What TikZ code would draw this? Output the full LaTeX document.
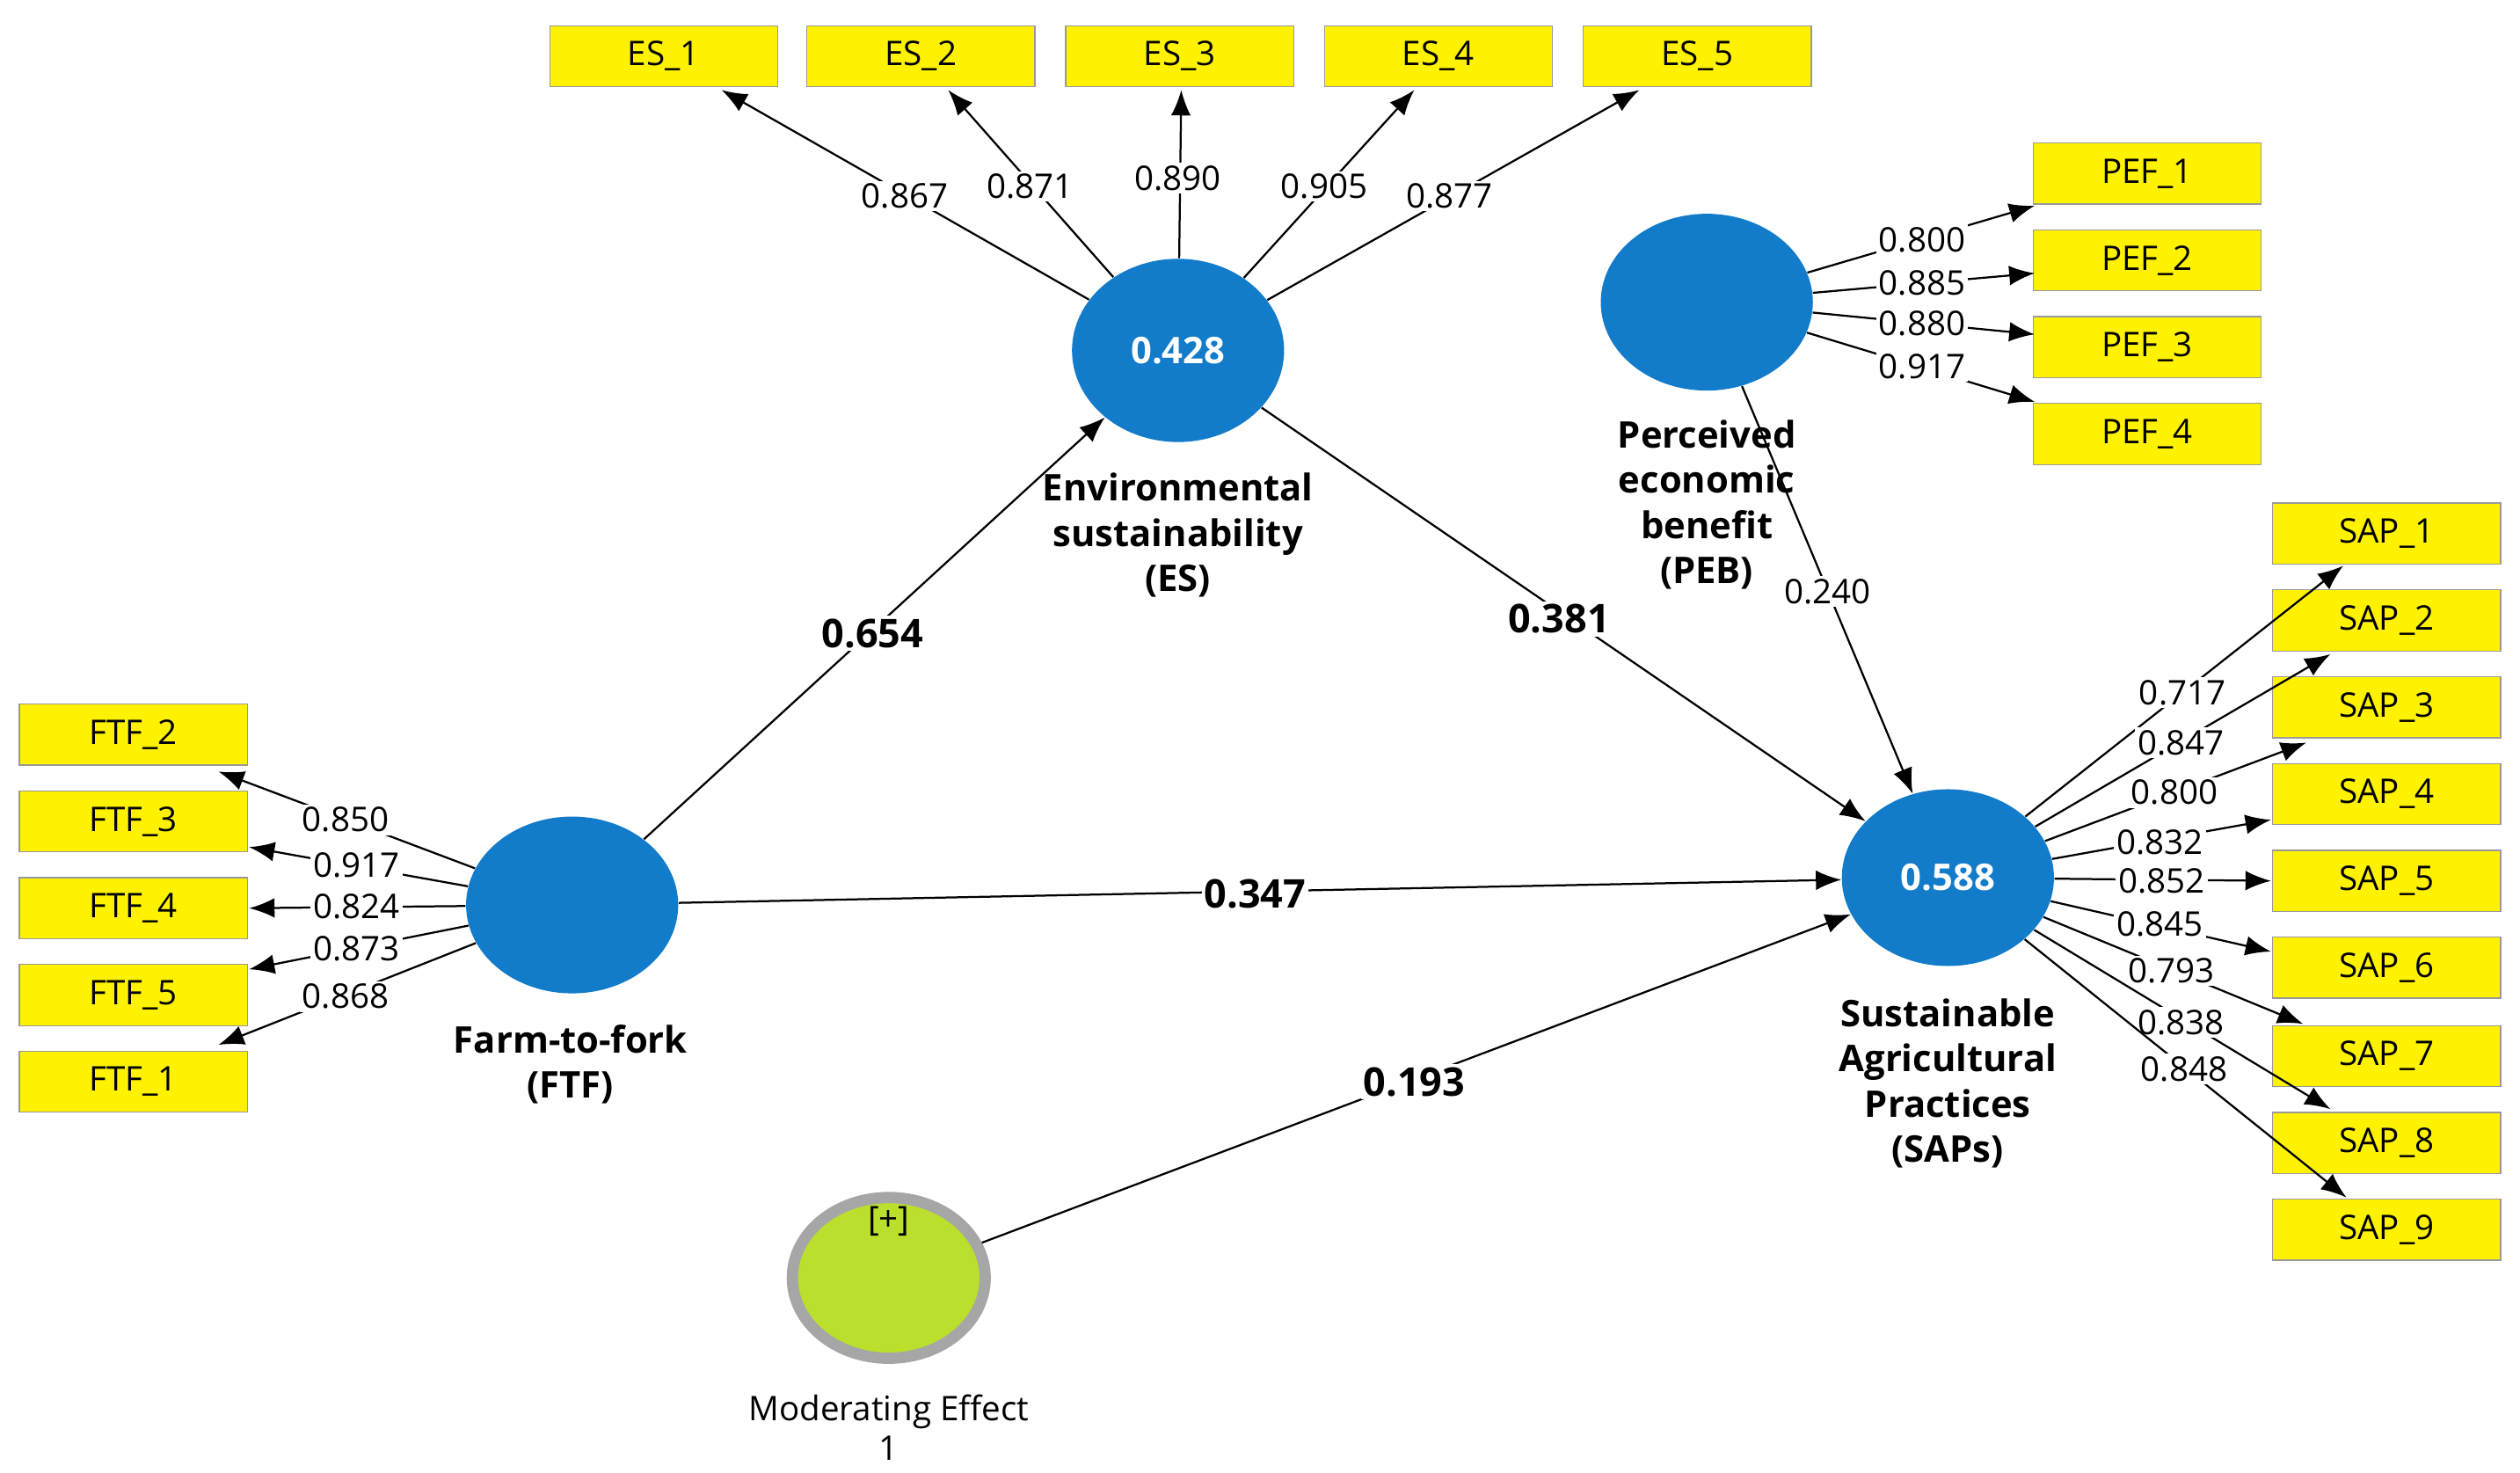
\documentclass[tikz,border=0pt]{standalone}
\usepackage{fontspec}
\setmainfont{Open Sans}
\usetikzlibrary{arrows.meta}
\begin{document}
\begin{tikzpicture}[x=0.02cm,y=-0.02cm,
 ind/.style={draw=black!40,fill=yellow,minimum width=2.84cm,minimum height=0.76cm,inner sep=0,font=\fontsize{12}{14}\selectfont},
 lv/.style={ellipse,fill=cyan!60!blue!70,draw=cyan!50!blue!60,inner sep=0,text=white,font=\bfseries\fontsize{13}{15}\selectfont},
 ar/.style={-{Latex[length=9pt,width=7pt]},line width=0.7pt},
 ld/.style={fill=white,inner sep=1pt,font=\fontsize{12}{14}\selectfont},
 pl/.style={fill=white,inner sep=1pt,font=\bfseries\fontsize{14}{16}\selectfont},
 nm/.style={align=center,font=\bfseries\fontsize{13}{16}\selectfont}]
\useasboundingbox (0,0) rectangle (1568,916);
\tikzset{lv/.append style={ellipse}}
\usetikzlibrary{shapes.geometric}
\colorlet{lvc}{cyan!60!blue}
% latent
\node[ellipse,fill=lvc,minimum width=2.64cm,minimum height=2.28cm,text=white,font=\bfseries\fontsize{13}{15}\selectfont] (ES) at (733,218) {0.428};
\node[ellipse,fill=lvc,minimum width=2.64cm,minimum height=2.2cm] (PEB) at (1062,188) {};
\node[ellipse,fill=lvc,minimum width=2.64cm,minimum height=2.2cm] (FTF) at (356,563) {};
\node[ellipse,fill=lvc,minimum width=2.64cm,minimum height=2.2cm,text=white,font=\bfseries\fontsize{13}{15}\selectfont] (SAP) at (1212,546) {0.588};
\node[ellipse,fill=yellow!70!green!90,draw=gray!70,line width=4pt,minimum width=2.4cm,minimum height=2cm] (ME) at (553,795) {};
\node[font=\fontsize{12}{14}\selectfont] (MEp) at (553,760) {[+]};
\node[nm] (ESn) at (733,333) {Environmental\\sustainability\\(ES)};
\node[nm] (PEBn) at (1062,314) {Perceived\\economic\\benefit\\(PEB)};
\node[nm] (FTFn) at (355,662) {Farm-to-fork\\(FTF)};
\node[nm] (SAPn) at (1212,674) {Sustainable\\Agricultural\\Practices\\(SAPs)};
\node[align=center,font=\fontsize{12}{14}\selectfont] (MEn) at (553,888) {Moderating Effect\\1};
% indicators
\foreach \i/\x in {1/413,2/573,3/734,4/895,5/1056}{\node[ind] (ES\i) at (\x,35) {ES\_\i};}
\foreach \i/\y in {1/108,2/162,3/216,4/270}{\node[ind] (PEF\i) at (1336,\y) {PEF\_\i};}
\foreach \i/\y in {1/332,2/386,3/440,4/494,5/548,6/602,7/657,8/711,9/765}{\node[ind] (SAP\i) at (1485,\y) {SAP\_\i};}
\foreach \i/\y in {2/457,3/511,4/565,5/619,1/673}{\node[ind] (FTF\i) at (83,\y) {FTF\_\i};}
% ES loadings
\foreach \i/\xe/\xl/\yl/\v in {1/449/563/122/0.867,2/590/641/116/0.871,3/735/733/111/0.890,4/880/824/116/0.905,5/1020/902/122/0.877}{
 \coordinate (e\i) at (\xe,56);
 \draw[ar] (ES) -- (e\i);
 \node[ld] at (\xl,\yl) {\v};}
% PEF loadings
\foreach \i/\ye/\yl/\v in {1/128/149/0.800,2/170/176/0.885,3/208/201/0.880,4/250/228/0.917}{
 \coordinate (p\i) at (1266,\ye);
 \draw[ar] (PEB) -- (p\i);
 \node[ld] at (1196,\yl) {\v};}
% SAP loadings
\foreach \i/\xe/\ye/\xl/\yl/\v in {1/1458/352/1358/431/0.717,2/1450/407/1357/462/0.847,3/1435/462/1353/493/0.800,4/1413/510/1344/524/0.832,5/1413/548/1345/548/0.852,6/1413/592/1344/575/0.845,7/1433/637/1351/604/0.793,8/1450/690/1357/636/0.838,9/1460/745/1359/665/0.848}{
 \coordinate (s\i) at (\xe,\ye);
 \draw[ar] (SAP) -- (s\i);
 \node[ld] at (\xl,\yl) {\v};}
% FTF loadings
\foreach \i/\xe/\ye/\yl/\xl/\v in {2/136/480/510/215/0.850,3/155/527/538/222/0.917,4/155/565/564/222/0.824,5/155/603/590/222/0.873,1/136/650/620/215/0.868}{
 \coordinate (f\i) at (\xe,\ye);
 \draw[ar] (FTF) -- (f\i);
 \node[ld] at (\xl,\yl) {\v};}
% structural
\draw[ar] (FTF) -- (ES);
\node[pl] at (543,394) {0.654};
\draw[ar] (ES) -- (SAP);
\node[pl] at (970,385) {0.381};
\draw[ar] (PEB) -- (SAP);
\node[ld] at (1137,368) {0.240};
\draw[ar] (FTF) -- (SAP);
\node[pl] at (781,556) {0.347};
\draw[ar] (ME) -- (SAP);
\node[pl] at (880,673) {0.193};
\end{tikzpicture}
\end{document}
